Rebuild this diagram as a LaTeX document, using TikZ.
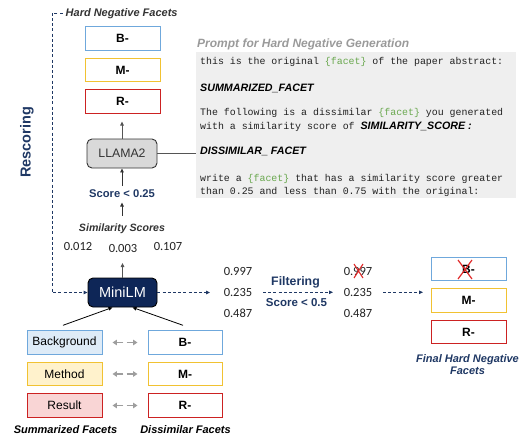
\documentclass[tikz,border=0pt]{standalone}
\usepackage{fontspec}
\setmainfont{Liberation Sans}
\setsansfont{Liberation Sans}
\setmonofont{Liberation Mono}
\newfontfamily\carl{Carlito}
\usetikzlibrary{arrows.meta}
\definecolor{navy}{HTML}{1F3864}
\definecolor{minifill}{HTML}{0E2657}
\definecolor{bblue}{HTML}{6FA8DC}
\definecolor{byellow}{HTML}{F1C232}
\definecolor{bred}{HTML}{CC2222}
\definecolor{fblue}{HTML}{DEEBF7}
\definecolor{fyellow}{HTML}{FFF2CC}
\definecolor{fred}{HTML}{F9D5D5}
\definecolor{llfill}{HTML}{D9D9D9}
\definecolor{promptgray}{HTML}{EFEFEF}
\definecolor{titlegray}{HTML}{9A9A9A}
\definecolor{fgreen}{HTML}{6AA84F}
\definecolor{monotext}{HTML}{222222}
\definecolor{numgray}{HTML}{222222}
\definecolor{darkline}{HTML}{333333}
\definecolor{midline}{HTML}{555555}
\definecolor{arrgray}{HTML}{9E9E9E}
\definecolor{xred}{HTML}{E02A2A}
\begin{document}
\begin{tikzpicture}[x=1pt,y=-1pt,
  fbox/.style={draw, line width=0.9pt, minimum width=75pt, minimum height=23.5pt, inner sep=0pt, fill=white, font=\fontsize{12}{14}\selectfont\bfseries},
  lbox/.style={fbox, font=\fontsize{12}{14}\selectfont},
  num/.style={font=\carl\fontsize{12.5}{14}\selectfont, text=numgray, inner sep=0pt},
  arr/.style={-{Triangle[length=4pt,width=3.5pt]}, line width=0.8pt, draw=darkline},
  darr/.style={-{Triangle[length=4pt,width=3.5pt]}, line width=0.9pt, draw=navy, dash pattern=on 3pt off 2.2pt},
  garr/.style={-{Triangle[length=4.5pt,width=5.5pt]}, line width=1.9pt, draw=arrgray},
  lbl/.style={font=\fontsize{11}{13}\selectfont\bfseries\itshape, inner sep=0pt},
  ptxt/.style={anchor=base west, inner sep=0pt, font=\ttfamily\fontsize{9.9}{12}\selectfont, text=monotext},
  ph/.style={font=\fontsize{10.7}{12}\selectfont\bfseries\itshape, text=black}
]
\useasboundingbox (0,0) rectangle (524,436);

% prompt box
\node[fill=promptgray, minimum width=320pt, minimum height=146pt, inner sep=0pt, anchor=north west] (pbox) at (196,52) {};
\node[anchor=base west, inner sep=0pt, text=titlegray, font=\fontsize{12}{14}\selectfont\bfseries\itshape] (ptitle) at (197,47.3) {Prompt for Hard Negative Generation};
\node[ptxt] (p1) at (200,64) {this is the original \textcolor{fgreen}{\{facet\}} of the paper abstract:};
\node[ptxt] (p2) at (200,91) {\normalfont\fontsize{10.7}{12}\selectfont\bfseries\itshape\color{black}SUMMARIZED\_FACET};
\node[ptxt] (p3) at (200,115.7) {The following is a dissimilar \textcolor{fgreen}{\{facet\}} you generated};
\node[ptxt] (p4) at (200,129.3) {with a similarity score of {\normalfont\fontsize{10.7}{12}\selectfont\bfseries\itshape\color{black}SIMILARITY\_SCORE :}};
\node[ptxt] (p5) at (200,154.7) {\normalfont\fontsize{10.7}{12}\selectfont\bfseries\itshape\color{black}DISSIMILAR\_ FACET};
\node[ptxt] (p6) at (200,181) {write a \textcolor{fgreen}{\{facet\}} that has a similarity score greater};
\node[ptxt] (p7) at (200,194.3) {than 0.25 and less than 0.75 with the original:};

% top hard negative facets
\node[fbox, draw=bblue] (hb) at (122.5,38.5) {B-};
\node[fbox, draw=byellow] (hm) at (122.5,70) {M-};
\node[fbox, draw=bred] (hr) at (122.5,101.5) {R-};
\node[lbl, text=darkline, anchor=base west, inner sep=0pt] (hnf) at (65.5,16.7) {Hard Negative Facets};

% LLAMA2
\node[draw=darkline, fill=llfill, rounded corners=5pt, line width=0.9pt, minimum width=70pt, minimum height=29pt, inner sep=0pt, font=\fontsize{12.3}{14}\selectfont, text=darkline] (llama) at (122,153.5) {LLAMA2};
\coordinate (rtip) at (122,121.5);
\draw[arr, draw=midline] (llama.north) -- (rtip);
\coordinate (pjoin) at (196,153.5);
\draw[line width=0.9pt, draw=midline] (llama.east) -- (pjoin);

\node[font=\fontsize{11.2}{13}\selectfont\bfseries, text=navy, inner sep=0pt] (sc25) at (122,194) {Score < 0.25};
\coordinate (a1s) at (122,186);
\draw[arr] (a1s) -- (llama.south);
\coordinate (a2s) at (122,215.5);
\coordinate (a2e) at (122,202.5);
\draw[arr] (a2s) -- (a2e);

\node[lbl, font=\fontsize{10.6}{13}\selectfont\bfseries\itshape, text=darkline] (sim) at (122,229) {Similarity Scores};
\node[num] (s012) at (78,246) {0.012};
\node[num] (s003) at (123,248) {0.003};
\node[num] (s107) at (168,246) {0.107};

% MiniLM
\node[draw=black, fill=minifill, rounded corners=5pt, line width=0.9pt, minimum width=69pt, minimum height=29pt, inner sep=0pt, font=\fontsize{14.5}{16}\selectfont, text=white] (mini) at (122.5,292.5) {MiniLM};
\coordinate (mtip) at (122.5,263);
\draw[arr, draw=midline] (mini.north) -- (mtip);

% Rescoring loop
\coordinate (rtop) at (52,13);
\coordinate (rbot) at (52,292.5);
\draw[darr] ([xshift=-3pt]hnf.west |- rtop) -- (rtop) -- (rbot) -- (mini.west);
\node[rotate=90, font=\fontsize{14.5}{16}\selectfont\bfseries, text=navy, inner sep=0pt] (resc) at (27,142.5) {Rescoring};

% scores column 1
\coordinate (m1) at (210,292.5);
\draw[darr] (mini.east) -- (m1);
\node[num] (c1a) at (238,271.5) {0.997};
\node[num] (c1b) at (238,292.3) {0.235};
\node[num] (c1c) at (238,313.3) {0.487};

% filtering
\coordinate (f1) at (263,292.3);
\coordinate (f2) at (333,292.3);
\draw[darr] (f1) -- (f2);
\node[font=\fontsize{12.3}{14}\selectfont\bfseries, text=navy, inner sep=0pt] (filt) at (295.5,282) {Filtering};
\node[font=\fontsize{11.5}{14}\selectfont\bfseries, text=navy, inner sep=0pt] (sc5) at (296.5,303) {Score < 0.5};

% scores column 2
\node[num] (c2a) at (358,271.3) {0.997};
\node[num] (c2b) at (358,292.3) {0.235};
\node[num] (c2c) at (358,313) {0.487};
\draw[xred, line width=1.1pt] (354,264) -- (363,278) (363,264) -- (354,278);

\coordinate (g1) at (383,292.3);
\coordinate (g2) at (423,292.3);
\draw[darr] (g1) -- (g2);

% final facets
\node[fbox, draw=bblue] (fb) at (468.5,269) {B-};
\node[fbox, draw=byellow] (fm) at (468.5,300.5) {M-};
\node[fbox, draw=bred] (fr) at (468.5,332) {R-};
\draw[xred, line width=1.2pt] (458,260) -- (472,279) (472,260) -- (458,279);
\node[lbl, text=navy, align=center, font=\fontsize{11}{12.7}\selectfont\bfseries\itshape] (fhn) at (467.5,364.5) {Final Hard Negative\\Facets};

% bottom left facets
\node[lbox, draw=bblue, fill=fblue] (bg) at (64.5,342.5) {Background};
\node[lbox, draw=byellow, fill=fyellow] (me) at (64.5,374) {Method};
\node[lbox, draw=bred, fill=fred] (re) at (64.5,405.5) {Result};
\node[fbox, draw=bblue, minimum width=74pt] (db) at (185,342.5) {B-};
\node[fbox, draw=byellow, minimum width=74pt] (dm) at (185,374) {M-};
\node[fbox, draw=bred, minimum width=74pt] (dr) at (185,405.5) {R-};

\foreach \l/\r in {bg/db, me/dm, re/dr}{
  \draw[garr] ([xshift=21pt]\l.east) -- ([xshift=10pt]\l.east);
  \draw[garr] ([xshift=-21pt]\r.west) -- ([xshift=-10pt]\r.west);
}

\draw[arr, draw=black] ([xshift=-1.5pt,yshift=5pt]bg.north) -- ([xshift=-10pt]mini.south);
\draw[arr, draw=black] ([xshift=-2pt,yshift=5pt]db.north) -- ([xshift=10pt]mini.south);

\node[lbl, text=black] (sumf) at (65.5,430) {Summarized Facets};
\node[lbl, text=black] (disf) at (185.5,430) {Dissimilar Facets};
\end{tikzpicture}
\end{document}
